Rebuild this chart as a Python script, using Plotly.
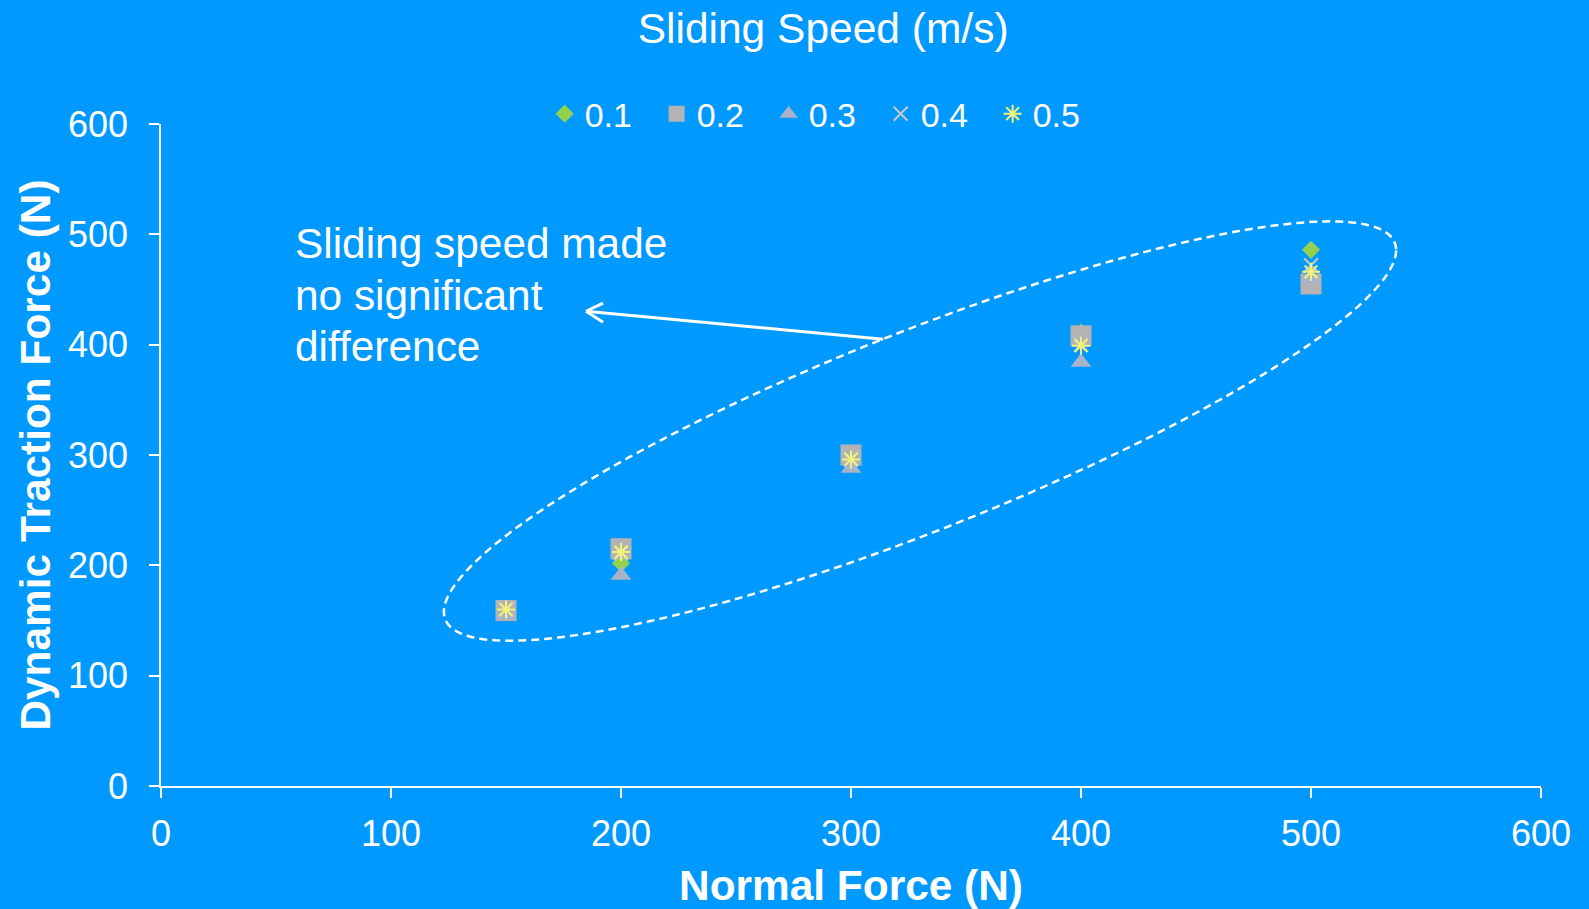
import numpy as np
import plotly.graph_objects as go

# ---- data ----
normal_force = [150, 200, 300, 400, 500]
speeds = ["0.1", "0.2", "0.3", "0.4", "0.5"]
traction_01 = [159, 202, 297, 411, 486]
traction_02 = [159, 215, 300, 408, 455]
traction_03 = [155, 191, 288, 384, 460]
traction_04 = [160, 211, 296, 400, 472]
traction_05 = [160, 212, 296, 399, 466]
x_ticks = [0, 100, 200, 300, 400, 500, 600]
y_ticks = [0, 100, 200, 300, 400, 500, 600]
note_lines = ["Sliding speed made", "no significant", "difference"]

BG = "#0099FF"
FONT = "Liberation Sans, Arial, sans-serif"

fig = go.Figure()

styles = [
    (traction_01, dict(symbol="diamond", size=14, color="#92D050")),
    (traction_02, dict(symbol="square", size=21, color="#B3B3B3")),
    (traction_03, dict(symbol="triangle-up", size=18, color="#A8B2C8")),
    (traction_04, dict(symbol="x-thin-open", size=14, color="#C8C8C8", line=dict(width=2, color="#C8C8C8"))),
    (traction_05, dict(symbol="asterisk-open", size=15, color="#F2F27A", line=dict(width=2, color="#F2F27A"))),
]
for name, (yv, mk) in zip(speeds, styles):
    fig.add_trace(go.Scatter(x=normal_force, y=yv, mode="markers", name=name,
                             marker=mk, hoverinfo="x+y+name"))

# dashed ellipse (annotation geometry in data units)
cx, cy = 330.0, 321.7
ux, uy = 207.0, 163.8
vx, vy = 0.0, -96.4
t = np.linspace(0, 2 * np.pi, 241)
ex = cx + ux * np.cos(t) + vx * np.sin(t)
ey = cy + uy * np.cos(t) + vy * np.sin(t)
path = "M " + " L ".join(f"{a:.3f},{b:.3f}" for a, b in zip(ex, ey)) + " Z"
fig.add_shape(type="path", path=path, xref="x", yref="y",
              line=dict(color="white", width=2.5, dash="8px,5px"))

# arrow (open head)
tail = (314.0, 405.0)
head = (184.8, 430.3)
barb1 = (192.2, 437.6)
barb2 = (192.2, 420.4)
for p0, p1 in [(tail, head), (head, barb1), (head, barb2)]:
    fig.add_shape(type="line", x0=p0[0], y0=p0[1], x1=p1[0], y1=p1[1],
                  xref="x", yref="y", line=dict(color="white", width=3))

note_y = [491.7, 445.0, 398.1]
for txt, yy in zip(note_lines, note_y):
    fig.add_annotation(x=57.4, y=yy, xref="x", yref="y", xanchor="left", yanchor="middle",
                       align="left", showarrow=False, text=txt,
                       font=dict(family=FONT, size=42.4, color="white"))

axis_common = dict(showgrid=False, zeroline=False, showline=True, linecolor="white",
                   linewidth=1.5, ticks="outside", ticklen=10, tickwidth=1.5,
                   tickcolor="white", range=[0, 600],
                   tickfont=dict(family=FONT, size=36, color="white"))
fig.update_xaxes(**axis_common, tickvals=x_ticks, ticklabelstandoff=5,
                 title=dict(text="<b>Normal Force (N)</b>", standoff=20,
                            font=dict(family=FONT, size=42.4, color="white")))
fig.update_yaxes(**axis_common, tickvals=y_ticks, ticklabelstandoff=14,
                 title=dict(text="<b>Dynamic Traction Force (N)</b>", standoff=4,
                            font=dict(family=FONT, size=42.4, color="white")))

fig.update_layout(
    width=1589, height=909,
    paper_bgcolor=BG, plot_bgcolor=BG,
    margin=dict(l=161, r=48, t=124, b=123, autoexpand=False),
    title=dict(text="Sliding Speed (m/s)", x=0.518, xref="container", xanchor="center",
               y=1 - 28.4 / 909, yref="container", yanchor="middle",
               font=dict(family=FONT, size=42.5, color="white")),
    legend=dict(orientation="h", x=0.278, xanchor="left", y=1.015, yanchor="middle",
                font=dict(family=FONT, size=34, color="white"),
                bgcolor="rgba(0,0,0,0)", entrywidth=67, itemclick=False),
    showlegend=True,
)

fig.write_html("out.html")
